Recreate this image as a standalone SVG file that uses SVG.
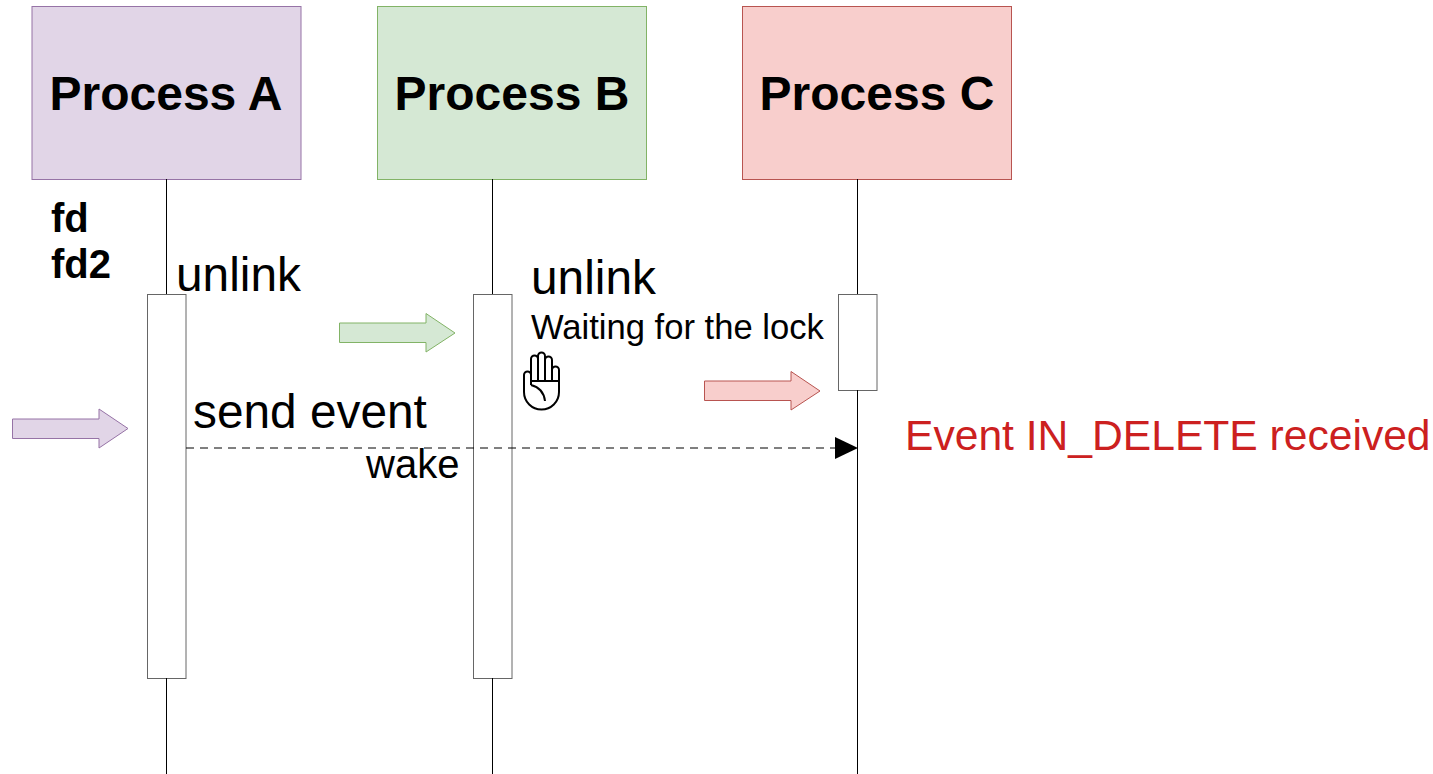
<svg xmlns="http://www.w3.org/2000/svg" width="1433" height="774" viewBox="0 0 1433 774">
<style>
text{font-family:"Liberation Sans",Arial,sans-serif;fill:#000}
.title{font-size:48px;font-weight:bold;text-anchor:middle}
.life{stroke:#000;stroke-width:1;fill:none}
.act{fill:#fff;stroke:#666;stroke-width:1}
.big{font-size:47.800px}
.bold{font-size:40px;font-weight:bold}
</style>
<rect width="1433" height="774" fill="#fff"/>
<g id="process-a"><rect x="32" y="6.500" width="269" height="173" fill="#e1d5e7" stroke="#9673a6"/><text class="title" x="166" y="110">Process A</text></g>
<g id="process-b"><rect x="377.500" y="6.500" width="269" height="173" fill="#d5e8d4" stroke="#82b366"/><text class="title" x="512" y="110">Process B</text></g>
<g id="process-c"><rect x="742.500" y="6.500" width="269" height="173" fill="#f8cecc" stroke="#b85450"/><text class="title" x="877" y="110">Process C</text></g>
<g id="activation-a"><rect class="act" x="147.500" y="294.500" width="38.500" height="384"/></g>
<g id="activation-b"><rect class="act" x="473.500" y="294.500" width="38.500" height="384"/></g>
<g id="activation-c"><rect class="act" x="838.500" y="294.500" width="38.500" height="96"/></g>
<g id="arrow-a"><path d="M12.500 419H99V409L128 428.500L99 448V438.500H12.500Z" fill="#e1d5e7" stroke="#9673a6"/></g>
<g id="arrow-b"><path d="M339.500 323H426V313.500L455 333L426 352V342.500H339.500Z" fill="#d5e8d4" stroke="#82b366"/></g>
<g id="arrow-c"><path d="M704.500 381H791V371.500L820 391L791 410V400.500H704.500Z" fill="#f8cecc" stroke="#b85450"/></g>
<g id="connectors">
<path class="life" d="M166.500 179V294M166.500 678V774"/>
<path class="life" d="M492.500 179V294M492.500 678V774"/>
<path class="life" d="M857.500 179V294M857.500 390V774"/>
<path d="M186 448H836" fill="none" stroke="#000" stroke-dasharray="8 6"/>
<path d="M835 437L858 448L835 459Z" fill="#000"/>
</g>
<g id="labels">
<text class="bold" x="51" y="232">fd</text>
<text class="bold" x="51" y="278">fd2</text>
<text class="big" x="176" y="291">unlink</text>
<text class="big" x="531" y="294">unlink</text>
<text x="531" y="339" font-size="34.600">Waiting for the lock</text>
<text class="big" x="193" y="428">send event</text>
<text x="366" y="478" font-size="40">wake</text>
<text x="905" y="449.500" font-size="42.600" style="fill:#cc2020">Event IN_DELETE received</text>
</g>
<g id="hand"><path d="M531 385V359a3.500 3.500 0 0 1 7 0V381M538 381V356a3.500 3.500 0 0 1 7 0V381M545 381V360a3.500 3.500 0 0 1 7 0V381M552 381V370a3.500 3.500 0 0 1 7 0V392C559 402 551 409.500 541.500 409.500C532 409.500 524 402 524 392V375a3.500 3.500 0 0 1 7 0M531 381H559M531 385C539 387 544 393 545 401" fill="#fff" stroke="#000" stroke-width="2"/></g>
</svg>
